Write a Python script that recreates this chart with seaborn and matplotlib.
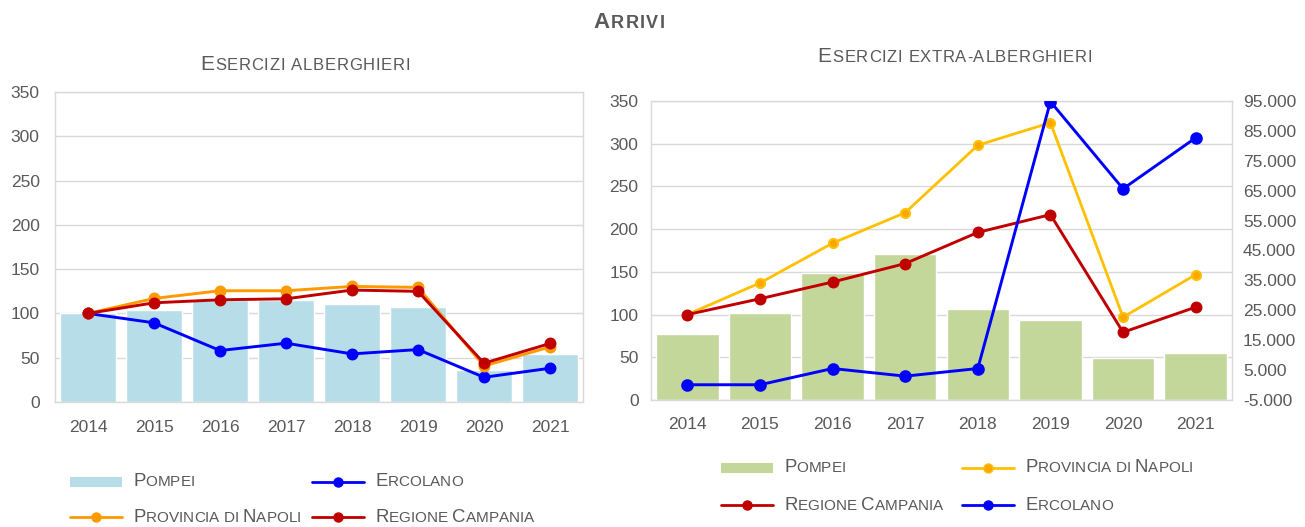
import matplotlib
matplotlib.use('Agg')
import matplotlib.pyplot as plt
import seaborn as sns
from matplotlib.offsetbox import TextArea, HPacker, DrawingArea, AnchoredOffsetbox
from matplotlib.lines import Line2D
from matplotlib.patches import Rectangle
from matplotlib.ticker import FuncFormatter

sns.set_style("white")
plt.rcParams['font.family'] = ['Liberation Sans', 'DejaVu Sans']

# ---- dati ----
anni = ['2014', '2015', '2016', '2017', '2018', '2019', '2020', '2021']

# esercizi alberghieri (indice 2014 = 100)
alb_pompei = [100, 104.1, 114.7, 115.4, 110.9, 107.1, 36.6, 54.3]
alb_ercolano = [100, 89.4, 58.1, 66.4, 54.3, 59.2, 27.9, 38.1]
alb_napoli = [100, 116.9, 125.6, 125.6, 130.5, 129.4, 40.7, 62.2]
alb_campania = [100, 112.0, 115.4, 116.5, 126.4, 124.9, 43.8, 66.1]

# esercizi extra-alberghieri (Ercolano sull'asse secondario)
extra_pompei = [77.7, 102.4, 149.1, 171.0, 106.8, 93.8, 48.7, 55.0]
extra_napoli = [100, 137.0, 183.6, 219.3, 298.2, 324.6, 96.9, 146.8]
extra_campania = [100, 118.5, 138.1, 159.7, 196.2, 217.0, 79.3, 108.7]
extra_ercolano = [100, 100, 5528, 2972, 5528, 94800, 65636, 82689]

GRIGIO = '#595959'
GRIGLIA = '#D9D9D9'
W, H = 1305, 527

fig = plt.figure(figsize=(W / 100, H / 100), dpi=100)


def px(x, y):
    return (x / W, 1 - y / H)


def smallcaps(text, big, small, sep=0.0, weight='normal'):
    kids = []
    for ch in text:
        if ch == ' ':
            kids.append(DrawingArea(0.28 * small, 1))
        else:
            size = big if ch.isupper() else small
            kids.append(TextArea(ch.upper(), textprops=dict(size=size, color=GRIGIO, fontweight=weight)))
    return HPacker(children=kids, align='baseline', pad=0, sep=sep)


def place(box, x, y, loc='center'):
    ab = AnchoredOffsetbox(loc=loc, child=box, pad=0, borderpad=0, frameon=False,
                           bbox_to_anchor=px(x, y), bbox_transform=fig.transFigure)
    fig.add_artist(ab)


def legend_entry(kind, color, label, mfc=None, ms=6.5):
    da = DrawingArea(37.5, 10, 0, 0)
    if kind == 'bar':
        da.add_artist(Rectangle((0, 1.7), 37.5, 6.6, facecolor=color, edgecolor='none'))
    else:
        da.add_artist(Line2D([0, 37.5], [5, 5], color=color, lw=2))
        da.add_artist(Line2D([18.75], [5], marker='o', ms=ms, color=color,
                             mfc=mfc or color, mec=color))
    return HPacker(children=[da, smallcaps(label, 13.4, 11)], align='center', pad=0, sep=8)


def stile_assi(ax):
    for s in ax.spines.values():
        s.set_color(GRIGLIA)
        s.set_linewidth(1)
    ax.set_axisbelow(True)
    ax.yaxis.grid(True, color=GRIGLIA, lw=1)
    ax.xaxis.grid(False)
    ax.tick_params(length=0, labelsize=12.5, labelcolor=GRIGIO)
    ax.set_xlabel('')
    ax.set_ylabel('')


# ---- Esercizi alberghieri ----
ax1 = fig.add_axes([55 / W, 1 - 402 / H, 528 / W, 310 / H])
sns.barplot(x=anni, y=alb_pompei, ax=ax1, color='#B7DEE8', saturation=1, width=0.86)
sns.pointplot(x=anni, y=alb_ercolano, ax=ax1, color='#0000FF', markersize=7, linewidth=2.1, errorbar=None)
sns.pointplot(x=anni, y=alb_napoli, ax=ax1, color='#FF9900', markersize=7, linewidth=2.1, errorbar=None)
sns.pointplot(x=anni, y=alb_campania, ax=ax1, color='#C00000', markersize=7, linewidth=2.1, errorbar=None)
ax1.set_ylim(0, 350)
ax1.set_yticks(range(0, 351, 50))
ax1.set_xlim(-0.5, 7.5)
stile_assi(ax1)
ax1.tick_params(axis='y', pad=11)
ax1.tick_params(axis='x', pad=13)

# ---- Esercizi extra-alberghieri ----
ax2 = fig.add_axes([651 / W, 1 - 400 / H, 581 / W, 299 / H])
sns.barplot(x=anni, y=extra_pompei, ax=ax2, color='#C4D79B', saturation=1, width=0.86)
sns.pointplot(x=anni, y=extra_napoli, ax=ax2, color='#FFC000', markersize=6.5, linewidth=2,
              errorbar=None, markerfacecolor='#F9A800')
sns.pointplot(x=anni, y=extra_campania, ax=ax2, color='#C00000', markersize=7, linewidth=2.1, errorbar=None)
ax2.set_ylim(0, 350)
ax2.set_yticks(range(0, 351, 50))
ax2.set_xlim(-0.5, 7.5)
stile_assi(ax2)
ax2.tick_params(axis='y', pad=9)
ax2.tick_params(axis='x', pad=12)

ax3 = ax2.twinx()
sns.pointplot(x=anni, y=extra_ercolano, ax=ax3, color='#0000FF', markersize=7.5, linewidth=2.1, errorbar=None)
ax3.set_ylim(-5000, 95000)
ax3.set_yticks(range(-5000, 95001, 10000))
ax3.yaxis.set_major_formatter(FuncFormatter(lambda v, p: f"{v:,.0f}".replace(',', '.')))
ax3.set_xlim(-0.5, 7.5)
for s in ax3.spines.values():
    s.set_visible(False)
ax3.grid(False)
ax3.tick_params(length=0, labelsize=12.5, labelcolor=GRIGIO, pad=8)
ax3.set_xlabel('')
ax3.set_ylabel('')

# ---- titoli ----
place(smallcaps('Arrivi', 16, 13, sep=1.0, weight='bold'), 629, 22)
place(smallcaps('Esercizi alberghieri', 15, 12, sep=0.5), 305, 65)
place(smallcaps('Esercizi extra-alberghieri', 15, 12, sep=0.5), 955, 57)

# ---- legende ----
place(legend_entry('bar', '#B7DEE8', 'Pompei'), 70, 482, 'center left')
place(legend_entry('line', '#0000FF', 'Ercolano'), 312, 482, 'center left')
place(legend_entry('line', '#FF9900', 'Provincia di Napoli'), 70, 517, 'center left')
place(legend_entry('line', '#C00000', 'Regione Campania'), 312, 517, 'center left')

place(legend_entry('bar', '#C4D79B', 'Pompei'), 721, 468, 'center left')
place(legend_entry('line', '#FFC000', 'Provincia di Napoli', mfc='#F9A800'), 962, 468, 'center left')
place(legend_entry('line', '#C00000', 'Regione Campania'), 721, 505, 'center left')
place(legend_entry('line', '#0000FF', 'Ercolano'), 962, 505, 'center left')

fig.savefig('out.png', dpi=100)
